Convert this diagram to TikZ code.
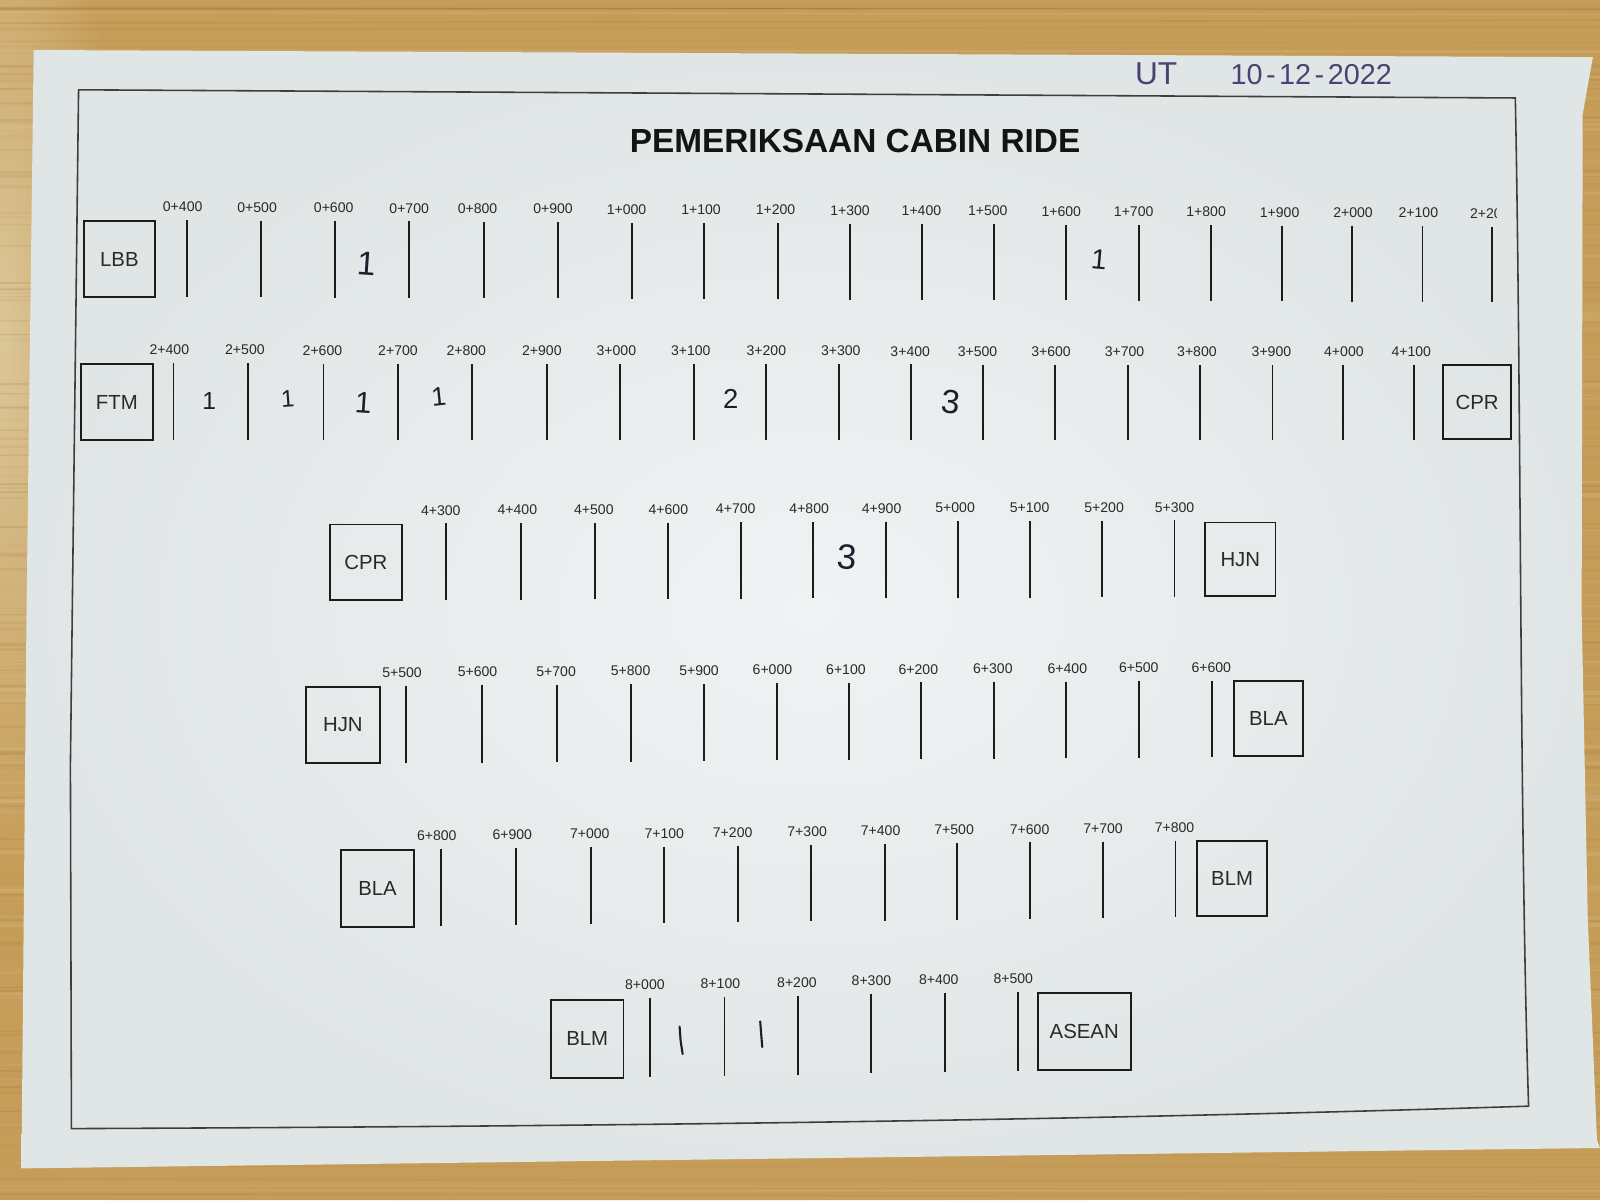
\documentclass[tikz,border=0pt]{standalone}
\usepackage{fontspec}
\setmainfont{Liberation Sans}
\definecolor{wood}{HTML}{C69D58}
\definecolor{woodlt}{HTML}{DCC79A}
\definecolor{wooddk}{HTML}{9A6E34}
\definecolor{paperin}{HTML}{F0F3F3}
\definecolor{paperout}{HTML}{E0E5E5}
\definecolor{ink}{HTML}{1C1C1C}
\definecolor{printgrey}{HTML}{2A2A2A}
\definecolor{pen}{HTML}{1E1E2A}
\definecolor{datepen}{HTML}{4A4272}
\tikzset{
  tick/.style={draw=ink, line width=0.55pt},
  km/.style={font=\fontsize{4pt}{5pt}\selectfont, text=printgrey, inner sep=0pt},
  stnbox/.style={draw=ink, line width=0.55pt},
  stnlbl/.style={font=\fontsize{5.8pt}{7pt}\selectfont, text=printgrey, inner sep=0pt},
  hand/.style={text=pen, inner sep=0pt},
  datehand/.style={text=datepen, inner sep=0pt},
  frameline/.style={draw=ink!85, line width=0.45pt},
}
% #1 row id, #2 x0, #3 x1, #4 top0, #5 top1, #6 bottom0, #7 bottom1, #8 list tick/label/text
\newcommand\tickrow[8]{%
  \foreach \tx/\lx/\t [count=\i] in {#8} {%
    \pgfmathsetmacro\ff{(\tx-#2)/(#3-#2)}%
    \pgfmathsetmacro\yt{#4+\ff*(#5-#4)}%
    \pgfmathsetmacro\yb{#6+\ff*(#7-#6)}%
    \draw[tick] (\tx,\yt) -- (\tx,\yb);
    \node[km] (#1k\i) at (\lx,\yt-13) {\t};
  }}
% #1 name, #2 x1, #3 y1, #4 x2, #5 y2, #6 text
\newcommand\stationbox[6]{%
  \draw[stnbox] (#2,#3) rectangle (#4,#5);
  \node[stnlbl] (#1) at ({(#2+#4)/2},{(#3+#5)/2}) {#6};}
\begin{document}
\begin{tikzpicture}[x=0.010204cm, y=-0.010204cm]
\useasboundingbox (0,0) rectangle (1568,1176);
% wooden table
\fill[wood] (0,0) rectangle (1568,1176);
\shade[inner color=woodlt, outer color=wood] (0,330) ellipse (120 and 520);
\pgfmathsetseed{42}
\foreach \k in {1,...,130} {
  \pgfmathsetmacro\gy{rnd*1176}
  \pgfmathsetmacro\gd{rnd*6-3}
  \pgfmathsetmacro\go{0.05+0.17*rnd}
  \pgfmathsetmacro\gw{0.15+0.55*rnd}
  \draw[wooddk, opacity=\go, line width=\gw pt] (0,\gy) -- (1568,\gy+\gd);
}
\foreach \k in {1,...,70} {
  \pgfmathsetmacro\gy{rnd*1176}
  \pgfmathsetmacro\gd{rnd*6-3}
  \pgfmathsetmacro\go{0.06+0.18*rnd}
  \pgfmathsetmacro\gw{0.3+1.0*rnd}
  \draw[woodlt, opacity=\go, line width=\gw pt] (0,\gy) -- (1568,\gy+\gd);
}
% paper sheet
\shade[inner color=paperin, outer color=paperout]
  (33,49) -- (1561,56) -- (1551,112) -- (1550,600) -- (1556,900)
  -- (1565,1117) -- (1568,1125) -- (21,1145) -- (26,600) -- cycle;
% printed frame
\draw[frameline] (77,88) -- (1485,96)
  .. controls (1491,400) and (1489,800) .. (1498,1084)
  .. controls (1030,1099) and (550,1104) .. (70,1106)
  -- (69,750) -- cycle;
% handwritten header
\node[datehand, font=\fontsize{9pt}{10pt}\selectfont] (ut) at (1133,72) {UT};
\node[datehand, font=\fontsize{8.2pt}{10pt}\selectfont] (date) at (1285,73) {10\kern1pt-\kern1pt12\kern1pt-\kern1pt2022};
% title
\node[font=\bfseries\fontsize{9.5pt}{11pt}\selectfont, text=black!92, inner sep=0pt] (title) at (838,138) {PEMERIKSAAN CABIN RIDE};
% row 1
\stationbox{lbb}{82}{217}{152}{291}{LBB}
\tickrow{r1}{183}{1462}{216}{222}{291}{296}{183/179/0+400, 256/252/0+500, 328/327/0+600, 401/401/0+700, 474/468/0+800, 547/542/0+900, 619/614/1+000, 690/687/1+100, 762/760/1+200, 833/833/1+300, 904/903/1+400, 974/968/1+500, 1045/1040/1+600, 1116/1111/1+700, 1187/1182/1+800, 1256/1254/1+900, 1325/1326/2+000, 1394/1390/2+100}
\draw[tick] (1462,222) -- (1462,296);
\begin{scope}
  \clip (1425,195) rectangle (1467,218);
  \node[km] (r1k19) at (1460,209) {2+200};
\end{scope}
\node[hand, font=\fontsize{9.5pt}{10pt}\selectfont, rotate=-4] (h1) at (359,258) {1};
\node[hand, font=\fontsize{8pt}{10pt}\selectfont, rotate=-5] (h2) at (1077,254) {1};
% row 2
\stationbox{ftm}{79}{357}{150}{431}{FTM}
\stationbox{cpra}{1414}{358}{1481}{430}{CPR}
\tickrow{r2}{170}{1386}{356}{358}{431}{431}{170/166/2+400, 243/240/2+500, 317/316/2+600, 390/390/2+700, 463/457/2+800, 536/531/2+900, 608/604/3+000, 680/677/3+100, 751/751/3+200, 822/824/3+300, 893/892/3+400, 963/958/3+500, 1034/1030/3+600, 1105/1102/3+700, 1176/1173/3+800, 1247/1246/3+900, 1316/1317/4+000, 1386/1383/4+100}
\node[hand, font=\fontsize{7pt}{8pt}\selectfont] (h3) at (205,393) {1};
\node[hand, font=\fontsize{6.8pt}{8pt}\selectfont, rotate=4] (h4) at (282,391) {1};
\node[hand, font=\fontsize{8.5pt}{9pt}\selectfont, rotate=-4] (h5) at (356,395) {1};
\node[hand, font=\fontsize{7.5pt}{8pt}\selectfont, rotate=6] (h6) at (430,389) {1};
\node[hand, font=\fontsize{7.8pt}{8pt}\selectfont] (h7) at (716,391) {2};
\node[hand, font=\fontsize{9.5pt}{10pt}\selectfont, rotate=-6] (h8) at (932,394) {3};
% row 3
\stationbox{cprb}{323}{514}{394}{588}{CPR}
\stationbox{hjna}{1181}{512}{1250}{584}{HJN}
\tickrow{r3}{437}{1151}{513}{510}{588}{585}{437/432/4+300, 511/507/4+400, 583/582/4+500, 655/655/4+600, 726/721/4+700, 797/793/4+800, 868/864/4+900, 939/936/5+000, 1009/1009/5+100, 1080/1082/5+200, 1151/1151/5+300}
\node[hand, font=\fontsize{10pt}{11pt}\selectfont, rotate=-4] (h9) at (830,546) {3};
% row 4
\stationbox{hjnb}{300}{673}{372}{748}{HJN}
\stationbox{blaa}{1209}{667}{1277}{741}{BLA}
\tickrow{r4}{398}{1188}{672}{667}{748}{742}{398/394/5+500, 472/468/5+600, 546/545/5+700, 618/618/5+800, 690/685/5+900, 761/757/6+000, 832/829/6+100, 903/900/6+200, 974/973/6+300, 1045/1046/6+400, 1116/1116/6+500, 1188/1187/6+600}
% row 5
\stationbox{blab}{334}{833}{406}{908}{BLA}
\stationbox{blma}{1173}{824}{1242}{898}{BLM}
\tickrow{r5}{432}{1152}{832}{824}{907}{899}{432/428/6+800, 506/502/6+900, 579/578/7+000, 651/651/7+100, 723/718/7+200, 795/791/7+300, 867/863/7+400, 938/935/7+500, 1009/1009/7+600, 1081/1081/7+700, 1152/1151/7+800}
% row 6
\stationbox{blmb}{540}{980}{611}{1056}{BLM}
\stationbox{asean}{1017}{973}{1108}{1049}{ASEAN}
\tickrow{r6}{637}{998}{978}{972}{1055}{1050}{637/632/8+000, 710/706/8+100, 782/781/8+200, 854/854/8+300, 926/920/8+400, 998/993/8+500}
\draw[draw=pen, line width=0.6pt, line cap=round] (666,1006) -- (667,1020) -- (669,1033);
\draw[draw=pen, line width=0.6pt, line cap=round] (745,1001) -- (746,1014) -- (747,1026);
\end{tikzpicture}
\end{document}
